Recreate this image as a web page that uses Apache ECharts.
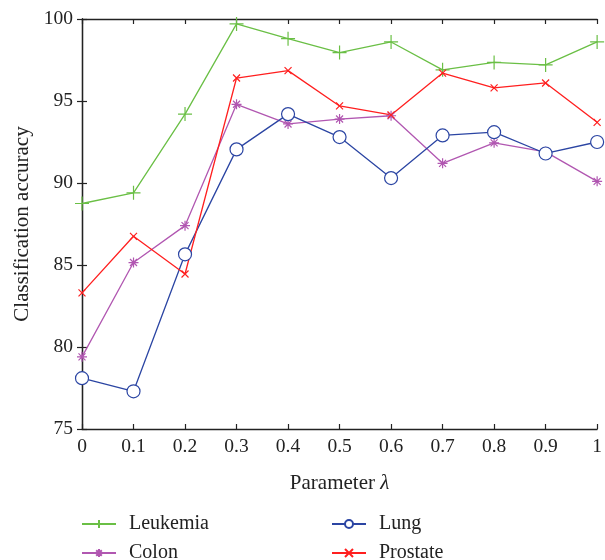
<!DOCTYPE html>
<html><head><meta charset="utf-8">
<script src="https://cdn.jsdelivr.net/npm/echarts@6/dist/echarts.min.js"></script>
<style>html,body{margin:0;padding:0;background:#fff}#c{width:605px;height:560px}</style>
</head><body><div id="c"></div>
<script>
const lambdas = [0, 0.1, 0.2, 0.3, 0.4, 0.5, 0.6, 0.7, 0.8, 0.9, 1];
const leukemia = [88.75, 89.4, 94.2, 99.7, 98.8, 97.95, 98.6, 96.9, 97.35, 97.2, 98.6];
const colon    = [79.4, 85.15, 87.4, 94.8, 93.6, 93.9, 94.1, 91.2, 92.45, 91.9, 90.1];
const lung     = [78.1, 77.3, 85.65, 92.05, 94.2, 92.8, 90.3, 92.9, 93.1, 91.8, 92.5];
const prostate = [83.3, 86.75, 84.45, 96.4, 96.85, 94.7, 94.15, 96.7, 95.8, 96.1, 93.7];
const yTicks = [75, 80, 85, 90, 95, 100];

const FONT = '"Liberation Serif", "DejaVu Serif", serif';
const pairs = arr => arr.map((v, i) => [lambdas[i], v]);

const PLUS = 'path://M0,5 L10,5 M5,0 L5,10';
const CROSS = 'path://M0,0 L10,10 M0,10 L10,0';
const STAR = 'path://M0,5 L10,5 M5,0 L5,10 M1.5,1.5 L8.5,8.5 M1.5,8.5 L8.5,1.5';
const RING = 'path://M10,5 A5,5 0 1,1 0,5 A5,5 0 1,1 10,5 Z';

function mk(name, data, color, symbol, size, fill) {
  return {
    name, type: 'line', data: pairs(data),
    symbol, symbolSize: size,
    lineStyle: { color, width: 1.3 },
    itemStyle: { color: fill, borderColor: color, borderWidth: 1.2 },
    emphasis: { disabled: true },
    animation: false
  };
}

const chart = echarts.init(document.getElementById('c'), null, { renderer: 'canvas' });
const axisCommon = {
  axisLine: { show: true, lineStyle: { color: '#222', width: 1.3 } },
  axisTick: { show: true, inside: true, length: 5, lineStyle: { color: '#222', width: 1.2 } },
  splitLine: { show: false }
};
const legendCommon = {
  orient: 'vertical', top: 514, height: 80, padding: 0, itemWidth: 34, itemHeight: 10, itemGap: 9,
  textStyle: { fontFamily: FONT, fontSize: 20, color: '#222', padding: [0, 0, 0, 8] }, selectedMode: false
};
chart.setOption({
  backgroundColor: '#fff',
  animation: false,
  grid: { left: 82, right: 3, top: 19, bottom: 131, containLabel: false },
  xAxis: [
    Object.assign({
      type: 'value', min: 0, max: 1, interval: 0.1, position: 'bottom',
      name: '{a|Parameter }{b|λ}', nameLocation: 'middle', nameGap: 44,
      nameTextStyle: { rich: { a: { fontFamily: FONT, fontSize: 21, color: '#222' }, b: { fontFamily: FONT, fontSize: 21, fontStyle: 'italic', color: '#222' } } },
      axisLabel: { fontFamily: FONT, fontSize: 19.5, color: '#222', margin: 8,
        formatter: v => (Math.abs(v) < 1e-9 ? '0' : Math.abs(v - 1) < 1e-9 ? '1' : v.toFixed(1)) }
    }, axisCommon),
    Object.assign({ type: 'value', min: 0, max: 1, interval: 0.1, position: 'top', axisLabel: { show: false } }, axisCommon)
  ],
  yAxis: [
    Object.assign({
      type: 'value', min: yTicks[0], max: yTicks[yTicks.length - 1], interval: 5, position: 'left',
      name: 'Classification accuracy', nameLocation: 'middle', nameGap: 48,
      nameTextStyle: { fontFamily: FONT, fontSize: 21, color: '#222' },
      axisLabel: { fontFamily: FONT, fontSize: 19.5, color: '#222', margin: 9 }
    }, axisCommon),
    Object.assign({ type: 'value', min: yTicks[0], max: yTicks[yTicks.length - 1], interval: 5, position: 'right', axisLabel: { show: false } }, axisCommon)
  ],
  legend: [
    Object.assign({ data: ['Leukemia', 'Colon'], left: 81 }, legendCommon),
    Object.assign({ data: ['Lung', 'Prostate'], left: 331 }, legendCommon)
  ],
  series: [
    mk('Leukemia', leukemia, '#6abf45', PLUS, 14, 'transparent'),
    mk('Colon', colon, '#b157b1', STAR, 10, 'transparent'),
    mk('Lung', lung, '#2b45a3', RING, 13, '#fff'),
    mk('Prostate', prostate, '#ff1f1f', CROSS, 7, 'transparent')
  ]
});
</script></body></html>
